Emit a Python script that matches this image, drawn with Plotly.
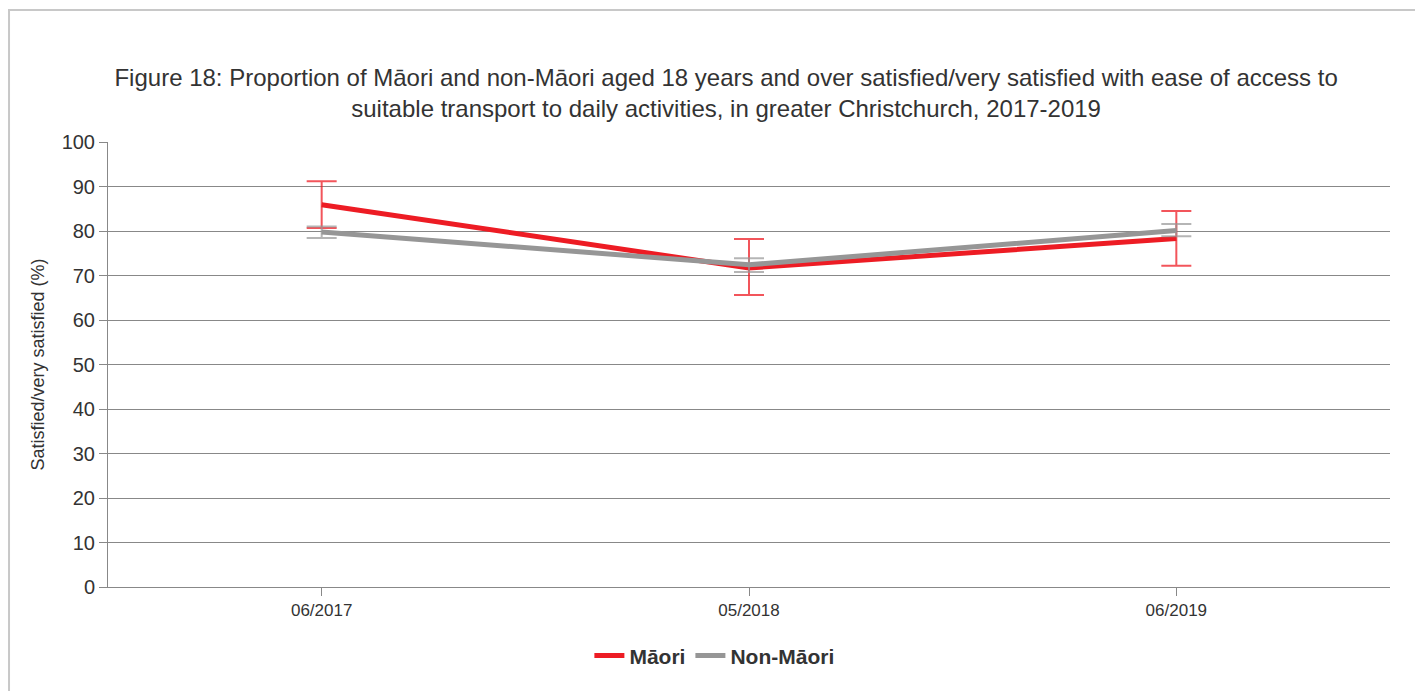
import plotly.graph_objects as go

categories = ["06/2017", "05/2018", "06/2019"]
maori = [85.9, 71.7, 78.3]
maori_hi = [91.2, 78.2, 84.5]
maori_lo = [80.7, 65.6, 72.2]
non_maori = [79.8, 72.4, 80.1]
non_maori_hi = [81.0, 73.9, 81.6]
non_maori_lo = [78.4, 70.8, 78.8]

y_ticks = list(range(0, 101, 10))

def err(vals, hi, lo):
    return dict(type="data", symmetric=False,
                array=[h - v for h, v in zip(hi, vals)],
                arrayminus=[v - l for v, l in zip(vals, lo)])

fig = go.Figure()
e1 = err(maori, maori_hi, maori_lo)
e1.update(color="rgba(237,28,36,0.75)", thickness=2, width=15)
fig.add_trace(go.Scatter(x=categories, y=maori, name="Māori", mode="lines",
                         line=dict(color="#ED1C24", width=5), error_y=e1))
e2 = err(non_maori, non_maori_hi, non_maori_lo)
e2.update(color="rgba(150,150,150,0.7)", thickness=2, width=15)
fig.add_trace(go.Scatter(x=categories, y=non_maori, name="Non-Māori", mode="lines",
                         line=dict(color="#969696", width=5), error_y=e2))

fig.update_layout(
    width=1415, height=683,
    paper_bgcolor="white", plot_bgcolor="white",
    margin=dict(l=100, r=33, t=134, b=104),
    font=dict(family="Liberation Sans, Arial, sans-serif", color="#333333"),
    title=dict(text="Figure 18: Proportion of Māori and non-Māori aged 18 years and over satisfied/very satisfied with ease of access to<br>suitable transport to daily activities, in greater Christchurch, 2017-2019",
               x=0.5075, xanchor="center", y=0.886, yanchor="middle",
               font=dict(size=24, color="#333333")),
    showlegend=True,
    legend=dict(orientation="h", x=0.473, xanchor="center", y=-0.155, yanchor="middle",
                font=dict(size=21, color="#333333", weight="bold"), itemwidth=30),
    shapes=[dict(type="rect", xref="paper", yref="paper", x0=-0.0772, x1=1.2,
                 y0=-0.5, y1=1.2966, line=dict(color="#c8c8c8", width=2), layer="below")],
)
fig.update_xaxes(type="category", range=[-0.5, 2.5], showline=True, linecolor="#888888",
                 linewidth=1, mirror=False, ticks="outside", ticklen=8, tickcolor="#888888",
                 showgrid=False, tickfont=dict(size=17, color="#333333"))
fig.update_yaxes(range=[0, 100], tickvals=y_ticks, showline=True, linecolor="#888888",
                 linewidth=1, ticks="outside", ticklen=8, tickcolor="#888888",
                 showgrid=True, gridcolor="#888888", gridwidth=1,
                 tickfont=dict(size=20, color="#333333"),
                 title=dict(text="Satisfied/very satisfied (%)", font=dict(size=18, color="#333333"), standoff=12),
                 zeroline=False)

fig.write_html("out.html")
